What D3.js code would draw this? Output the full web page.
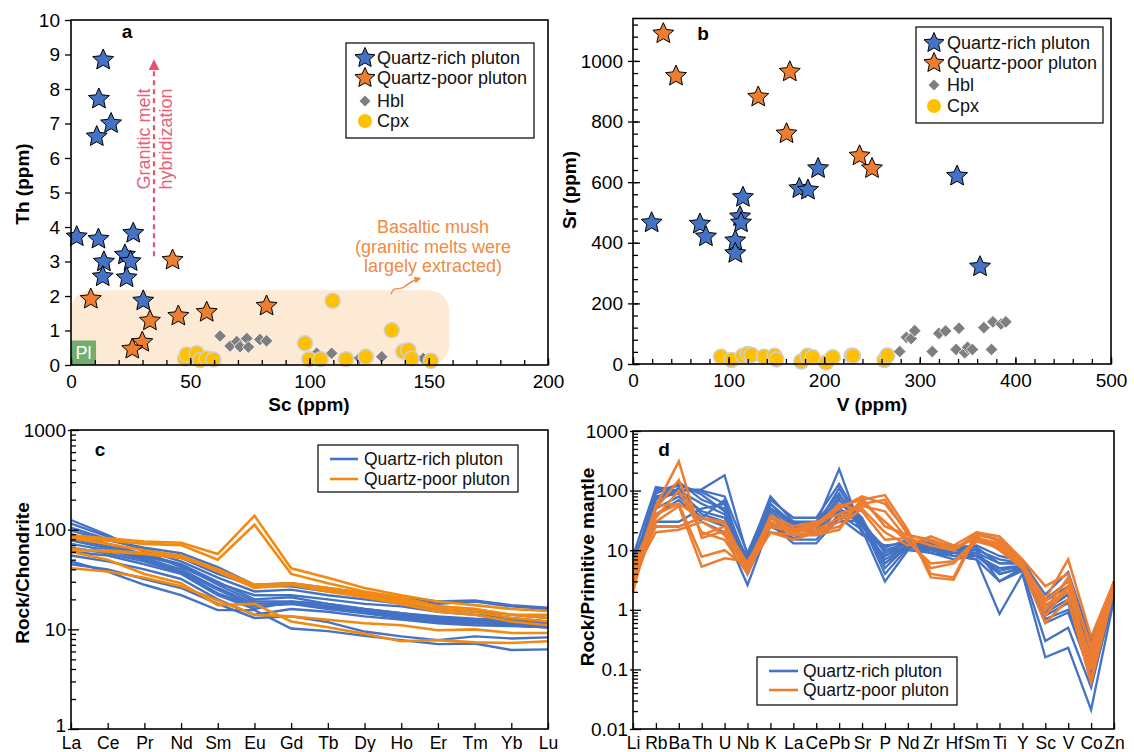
<!DOCTYPE html>
<html>
<head>
<meta charset="utf-8">
<script src="https://cdn.jsdelivr.net/npm/d3@7"></script>
<style>
  body { margin: 0; background: #fff; }
  svg { font-family: "Liberation Sans", Arial, Helvetica, sans-serif; }
</style>
</head>
<body>
<svg id="chart" width="1134" height="752"></svg>
<script>
// ---- Panel a: Sc vs Th (ppm)
const aQuartzRich = [[13.5, 8.84], [11.7, 7.71], [16.8, 7.0], [10.8, 6.62], [2.4, 3.72], [11.5, 3.65], [26.1, 3.82],
  [22.6, 3.19], [25, 3.0], [13.8, 2.99], [13.3, 2.56], [23.3, 2.53], [30.3, 1.86]];
const aQuartzPoor = [[42.6, 3.04], [8.3, 1.91], [45, 1.42], [56.9, 1.53], [82, 1.71], [33.1, 1.28], [29.9, 0.66], [25.7, 0.46]];
const aHbl = [[62.5, 0.84], [66.7, 0.55], [69.5, 0.68], [70.9, 0.53], [73.7, 0.77], [74.4, 0.52], [79.2, 0.74], [82, 0.7],
  [103, 0.34], [109.3, 0.34], [121, 0.2], [130.3, 0.24], [147.7, 0.19]];
const aCpx = [[47.8, 0.19], [48.5, 0.3], [52.7, 0.34], [54.1, 0.14], [56.9, 0.19], [59.7, 0.16], [98.1, 0.63], [99.9, 0.17],
  [104.7, 0.17], [109.7, 1.86], [115.3, 0.17], [123.6, 0.24], [134.5, 1.01], [139.3, 0.39], [141.4, 0.43], [142.8, 0.19], [150.9, 0.12]];

// ---- Panel b: V vs Sr (ppm)
const bQuartzRich = [[19.5, 466], [70, 462], [76.3, 420], [107, 407], [107, 365], [112, 486], [113, 466], [115, 550],
  [174, 579], [183, 574], [193.6, 645], [339, 620], [363, 321]];
const bQuartzPoor = [[31.7, 1090], [45, 950], [131, 881], [164, 964], [160.6, 760], [237, 687], [250, 645]];
const bHbl = [[279, 41], [286, 88], [291, 84], [294.7, 110], [313, 41], [320, 101], [327, 109], [341, 118], [338, 48],
  [347, 37], [350, 55], [355, 48], [375, 48], [367, 120], [376.5, 139], [385, 132], [390, 139]];
const bCpx = [[92, 24], [103, 13], [115, 27], [120, 33], [124, 30], [137, 24], [148, 27], [150, 15], [176, 8], [182.5, 27],
  [188, 22], [202, 5], [209, 22], [228.5, 27], [230, 27], [263, 13], [266, 28]];

// ---- Panel c: chondrite-normalised REE
const cElements = ["La", "Ce", "Pr", "Nd", "Sm", "Eu", "Gd", "Tb", "Dy", "Ho", "Er", "Tm", "Yb", "Lu"];
const cQuartzRich = [
  [125, 88, 60, 42, 29, 22, 22, 20, 18, 17, 15, 14, 13, 12],
  [115, 85, 62, 48, 33, 24, 25, 22, 20, 18, 16, 15, 14, 13],
  [105, 80, 64, 52, 36, 27, 27, 24, 22, 20, 18, 19, 17, 16],
  [98, 78, 66, 58, 42, 28, 29, 26, 23, 20.5, 19, 19.5, 17.5, 16.5],
  [90, 72, 56, 45, 30, 20, 21, 18, 16, 14.5, 13, 12.5, 12, 11.5],
  [82, 68, 54, 44, 28, 19, 19, 17, 15.5, 14, 13, 12, 11.5, 11],
  [78, 65, 52, 40, 26, 18, 18.5, 16.5, 15, 13.5, 12.5, 12, 11, 10.5],
  [72, 62, 50, 38, 25, 17, 18, 16, 14.5, 13, 12, 11.5, 11, 10.5],
  [66, 58, 48, 37, 23, 17, 18, 17, 15.5, 13.5, 12.5, 12, 11.5, 11],
  [60, 55, 45, 36, 22, 16, 19, 18, 16, 14.5, 13.5, 12.8, 12.5, 12],
  [48, 38, 28, 22, 15.6, 15.6, 10.2, 9.6, 8.6, 7.8, 7.1, 7.2, 6.2, 6.3],
  [45, 40, 32, 26, 18, 13, 13.5, 11.8, 9.5, 8.5, 7.8, 8.5, 8.1, 8.3],
  [55, 48, 40, 32, 20, 14, 16, 15, 13.5, 12.5, 11.5, 11, 10.8, 10.5]
];
const cQuartzPoor = [
  [88, 82, 76, 74, 57, 138, 41, 33, 26, 22, 19, 17.5, 16, 15.3],
  [85, 78, 72, 70, 50, 112, 36, 29, 24, 21, 17, 16, 14, 13],
  [62, 62, 58, 54, 38, 26, 28, 25, 22, 19, 16, 15, 13, 12],
  [82, 72, 62, 55, 40, 27, 28, 24, 21, 18, 15, 14, 12, 11],
  [60, 50, 36, 29, 17.5, 18, 12, 10.5, 9, 7.6, 7.8, 7.4, 7.3, 7.6],
  [41, 38, 33, 27, 19.5, 14, 13.5, 12.5, 11.5, 11, 9.8, 10, 9.2, 9.2],
  [64, 60, 57, 52, 40, 28, 29, 26, 23, 20, 17, 16, 14, 14]
];

// ---- Panel d: primitive-mantle-normalised trace elements
const dElements = ["Li", "Rb", "Ba", "Th", "U", "Nb", "K", "La", "Ce", "Pb", "Sr", "P", "Nd", "Zr", "Hf", "Sm", "Ti", "Y", "Sc", "V", "Co", "Zn"];
const dQuartzRich = [
  [8, 115, 100, 105, 180, 8, 80, 30, 28, 230, 20, 8, 14, 12, 10, 10, 3, 5, 0.9, 1.5, 0.1, 2.5],
  [5, 100, 120, 95, 60, 6, 60, 28, 25, 110, 25, 10, 13, 11, 9, 9, 4, 5, 1.0, 1.8, 0.12, 2.2],
  [4, 90, 130, 85, 45, 5, 50, 25, 22, 70, 30, 7, 12, 10, 9, 8, 5, 5.5, 1.2, 2.0, 0.15, 2.0],
  [6, 80, 100, 60, 40, 7, 45, 22, 20, 60, 33, 6, 13, 12, 10, 9, 6, 6, 0.8, 1.3, 0.1, 2.3],
  [3.5, 75, 90, 45, 35, 5, 40, 18, 18, 50, 30, 5, 12, 11, 9, 8, 4, 5, 0.6, 0.9, 0.08, 2.1],
  [7, 60, 110, 40, 30, 4, 35, 20, 25, 45, 28, 4, 11, 10, 8, 7, 3, 4.5, 0.3, 0.5, 0.05, 1.8],
  [5, 50, 80, 35, 25, 6, 30, 15, 15, 40, 22, 3, 10, 9, 8, 7, 0.85, 4, 0.16, 0.23, 0.021, 1.5],
  [4, 40, 70, 30, 20, 2.6, 28, 13, 13, 35, 18, 12, 13, 12, 11, 10, 7, 6, 1.5, 3, 0.25, 2.5],
  [3, 30, 30, 50, 60, 4, 25, 16, 20, 30, 32, 9, 14, 13, 11, 12, 8, 6.5, 1.8, 4.3, 0.3, 2.6],
  [6, 25, 25, 35, 70, 5, 50, 30, 30, 90, 20, 8, 12, 9, 7, 8, 5, 5, 1.0, 1.8, 0.06, 1.7],
  [4.5, 110, 100, 100, 80, 9, 70, 35, 35, 130, 28, 11, 15, 13, 12, 11, 6, 6, 1.4, 2.5, 0.18, 2.4],
  [5, 70, 140, 70, 50, 7, 60, 25, 25, 80, 35, 6, 11, 10, 9, 8, 4.5, 5.5, 0.7, 1.0, 0.09, 2.0]
];
const dQuartzPoor = [
  [2, 55, 310, 16, 21, 5, 30, 20, 25, 50, 80, 60, 20, 4, 3.5, 20, 14, 6, 1.0, 3.5, 0.1, 3],
  [3, 50, 150, 18, 25, 6, 35, 22, 28, 55, 70, 84, 22, 3.5, 3.2, 18, 15, 6.5, 0.8, 2.4, 0.07, 2.8],
  [4, 55, 60, 34, 28, 4.5, 38, 25, 30, 40, 60, 70, 18, 15, 11, 16, 13, 6, 1.5, 7, 0.35, 3],
  [5, 25, 25, 35, 30, 5, 20, 15, 20, 25, 50, 20, 12, 17, 12, 20, 17, 7, 2.5, 4, 0.2, 2.5],
  [2.5, 30, 55, 5.3, 7.3, 6.5, 25, 20, 22, 35, 55, 45, 15, 5, 6, 14, 11, 5, 0.6, 1.5, 0.06, 2.2],
  [3.5, 40, 60, 7.8, 10, 5, 30, 18, 20, 30, 65, 30, 14, 6, 6.5, 15, 12, 5.5, 1.2, 2.0, 0.15, 2.6],
  [6, 35, 100, 20, 15, 4, 28, 22, 25, 60, 45, 15, 16, 12, 10, 17, 10, 5, 1.0, 2.5, 0.12, 2.5],
  [4, 20, 22, 30, 18, 4.7, 20, 18, 18, 22, 75, 25, 18, 14, 10, 19, 15, 6, 1.4, 3.0, 0.25, 3]
];

const legendNames = ["Quartz-rich pluton", "Quartz-poor pluton", "Hbl", "Cpx"];

// colours
const BLUE = "#4472c4";
const ORANGE = "#ed7d31";
const ORANGE_C = "#f28a12";
const GREY = "#7f7f7f";
const GOLD = "#ffc000";

const svg = d3.select("#chart");

// ---------- helpers ----------
function styleAxis(g, fontSize) {
    g.select(".domain").remove();
    g.selectAll(".tick line").attr("stroke", "#000").attr("stroke-width", 1.3);
    g.selectAll(".tick text").attr("fill", "#000").style("font-size", (fontSize || 19) + "px");
    return g;
}

function addAxis(axis, tx, ty, fontSize) {
    return styleAxis(svg.append("g").attr("transform", `translate(${tx},${ty})`).call(axis), fontSize);
}

function frame(x0, y0, x1, y1) {
    svg.append("rect")
        .attr("x", x0).attr("y", y0)
        .attr("width", x1 - x0).attr("height", y1 - y0)
        .attr("fill", "none").attr("stroke", "#000").attr("stroke-width", 1.6);
}

function starPath(R) {
    const pts = [];
    for (let i = 0; i < 10; i++) {
        const a = -Math.PI / 2 + i * Math.PI / 5;
        const r = i % 2 === 0 ? R : R * 0.47;
        pts.push([r * Math.cos(a), r * Math.sin(a)]);
    }
    return "M" + pts.map(p => p[0].toFixed(2) + "," + p[1].toFixed(2)).join("L") + "Z";
}

function diamondPath(h) {
    return `M0,${-h}L${h},0L0,${h}L${-h},0Z`;
}

function drawPoints(data, x, y, kind, fill) {
    const g = svg.append("g");
    if (kind === "circle") {
        g.selectAll("circle").data(data).enter().append("circle")
            .attr("cx", d => x(d[0])).attr("cy", d => y(d[1]))
            .attr("r", 7.5)
            .attr("fill", fill).attr("stroke", "#cfcfcf").attr("stroke-width", 1.5);
    } else {
        g.selectAll("path").data(data).enter().append("path")
            .attr("d", kind === "diamond" ? diamondPath(6.3) : starPath(11))
            .attr("transform", d => `translate(${x(d[0])},${y(d[1])})`)
            .attr("fill", fill)
            .attr("stroke", kind === "diamond" ? "#fff" : "#000")
            .attr("stroke-width", kind === "diamond" ? 0.8 : 1);
    }
}

function scatterLegend(x0, y0, x1, y1, rows, symX, textX) {
    svg.append("rect").attr("x", x0).attr("y", y0).attr("width", x1 - x0).attr("height", y1 - y0)
        .attr("fill", "#fff").attr("stroke", "#000").attr("stroke-width", 1.2);
    const kinds = ["star", "star", "diamond", "circle"];
    const fills = [BLUE, ORANGE, GREY, GOLD];
    legendNames.forEach((name, i) => {
        const cy = rows[i];
        if (kinds[i] === "star") {
            svg.append("path").attr("d", starPath(10.5)).attr("transform", `translate(${symX},${cy})`)
                .attr("fill", fills[i]).attr("stroke", "#000").attr("stroke-width", 1);
        } else if (kinds[i] === "diamond") {
            svg.append("path").attr("d", diamondPath(5.5)).attr("transform", `translate(${symX},${cy})`)
                .attr("fill", fills[i]);
        } else {
            svg.append("circle").attr("cx", symX).attr("cy", cy).attr("r", 7).attr("fill", fills[i]);
        }
        svg.append("text").attr("x", textX).attr("y", cy).attr("dy", "0.36em")
            .style("font-size", "18px").attr("fill", "#111").text(name);
    });
}

function lineLegend(x0, y0, x1, y1, rows, lx0, lx1, textX, colors) {
    svg.append("rect").attr("x", x0).attr("y", y0).attr("width", x1 - x0).attr("height", y1 - y0)
        .attr("fill", "#fff").attr("stroke", "#000").attr("stroke-width", 1.2);
    legendNames.slice(0, 2).forEach((name, i) => {
        svg.append("line").attr("x1", lx0).attr("x2", lx1).attr("y1", rows[i]).attr("y2", rows[i])
            .attr("stroke", colors[i]).attr("stroke-width", 2.6);
        svg.append("text").attr("x", textX).attr("y", rows[i]).attr("dy", "0.36em")
            .style("font-size", "17.5px").attr("fill", "#111").text(name);
    });
}

function yTitle(text, x, y) {
    svg.append("text").attr("transform", `translate(${x},${y}) rotate(-90)`)
        .attr("text-anchor", "middle").style("font-size", "19px").style("font-weight", "bold").text(text);
}

function xTitle(text, x, y) {
    svg.append("text").attr("x", x).attr("y", y).attr("text-anchor", "middle")
        .style("font-size", "19px").style("font-weight", "bold").text(text);
}

function panelLabel(text, x, y) {
    svg.append("text").attr("x", x).attr("y", y).attr("text-anchor", "middle")
        .style("font-size", "19px").style("font-weight", "bold").text(text);
}

function logMinor(lo, hi) {
    const out = [];
    for (let e = lo; e < hi; e++) {
        for (let k = 2; k <= 9; k++) out.push(k * Math.pow(10, e));
    }
    return out;
}

// ---------- panel a ----------
const xA = d3.scaleLinear().domain([0, 200]).range([71, 548]);
const yA = d3.scaleLinear().domain([0, 10]).range([365, 20]);

// basaltic mush field and plagioclase box
svg.append("rect")
    .attr("x", xA(0)).attr("y", yA(2.17))
    .attr("width", xA(158.5) - xA(0)).attr("height", yA(0) - yA(2.17))
    .attr("rx", 20).attr("fill", "#fcead4");
svg.append("rect")
    .attr("x", xA(0)).attr("y", yA(0.71))
    .attr("width", xA(10.5) - xA(0)).attr("height", yA(0) - yA(0.71))
    .attr("fill", "#72ad6e");
svg.append("text").attr("x", xA(5.2)).attr("y", yA(0.35)).attr("dy", "0.36em")
    .attr("text-anchor", "middle").attr("fill", "#fff").style("font-size", "18px").text("Pl");

drawPoints(aHbl, xA, yA, "diamond", GREY);
drawPoints(aCpx, xA, yA, "circle", GOLD);
drawPoints(aQuartzRich, xA, yA, "star", BLUE);
drawPoints(aQuartzPoor, xA, yA, "star", ORANGE);

addAxis(d3.axisBottom(xA).tickValues(d3.range(0, 201, 10)).tickSize(-5).tickFormat(""), 0, 365);
addAxis(d3.axisBottom(xA).tickValues([0, 50, 100, 150, 200]).tickSize(-7).tickPadding(10), 0, 365);
addAxis(d3.axisLeft(yA).tickValues(d3.range(0, 11)).tickSize(6).tickPadding(5), 71, 0);
frame(71, 20, 548, 365);

// hybridization arrow
const defs = svg.append("defs");
defs.append("marker").attr("id", "headPink").attr("viewBox", "0 0 10 10")
    .attr("refX", 5).attr("refY", 5).attr("markerWidth", 5).attr("markerHeight", 5).attr("orient", "auto")
    .append("path").attr("d", "M0,0L10,5L0,10Z").attr("fill", "#e8516d");
defs.append("marker").attr("id", "headOrange").attr("viewBox", "0 0 10 10")
    .attr("refX", 5).attr("refY", 5).attr("markerWidth", 5).attr("markerHeight", 5).attr("orient", "auto")
    .append("path").attr("d", "M0,0L10,5L0,10Z").attr("fill", "#f08a45");

svg.append("line")
    .attr("x1", xA(34.8)).attr("x2", xA(34.8)).attr("y1", yA(3.15)).attr("y2", yA(8.7))
    .attr("stroke", "#e8516d").attr("stroke-width", 2.2).attr("stroke-dasharray", "5,4")
    .attr("marker-end", "url(#headPink)");
svg.append("text").attr("transform", "translate(150,139) rotate(-90)").attr("text-anchor", "middle")
    .attr("fill", "#e8607a").style("font-size", "18px").text("Granitic melt");
svg.append("text").attr("transform", "translate(172,139) rotate(-90)").attr("text-anchor", "middle")
    .attr("fill", "#e8607a").style("font-size", "18px").text("hybridization");

// basaltic mush note
["Basaltic mush", "(granitic melts were", "largely extracted)"].forEach((t, i) => {
    svg.append("text").attr("x", 433).attr("y", 233 + i * 19.5).attr("text-anchor", "middle")
        .attr("fill", "#f08a45").style("font-size", "18px").text(t);
});
svg.append("path").attr("d", "M391,294 C394,285 399,291 404,287 S411,281 418,279")
    .attr("fill", "none").attr("stroke", "#f08a45").attr("stroke-width", 1.4)
    .attr("marker-end", "url(#headOrange)");

scatterLegend(346, 43, 534, 138, [58, 78, 101, 121], 365, 377);
yTitle("Th (ppm)", 29, 184);
xTitle("Sc (ppm)", 309, 411);
panelLabel("a", 127, 38);

// ---------- panel b ----------
const xB = d3.scaleLinear().domain([0, 500]).range([633, 1111]);
const yB = d3.scaleLinear().domain([0, 1140]).range([364, 18.5]);

drawPoints(bHbl, xB, yB, "diamond", GREY);
drawPoints(bCpx, xB, yB, "circle", GOLD);
drawPoints(bQuartzRich, xB, yB, "star", BLUE);
drawPoints(bQuartzPoor, xB, yB, "star", ORANGE);

addAxis(d3.axisBottom(xB).tickValues(d3.range(0, 501, 20)).tickSize(-5).tickFormat(""), 0, 364);
addAxis(d3.axisBottom(xB).tickValues(d3.range(0, 501, 100)).tickSize(-7).tickPadding(10).tickFormat(d3.format("d")), 0, 364);
addAxis(d3.axisLeft(yB).tickValues(d3.range(0, 1140, 40)).tickSize(-5).tickFormat(""), 633, 0);
addAxis(d3.axisLeft(yB).tickValues(d3.range(0, 1001, 200)).tickSize(5).tickPadding(5).tickFormat(d3.format("d")), 633, 0);
addAxis(d3.axisLeft(yB).tickValues(d3.range(0, 1001, 200)).tickSize(-7).tickFormat(""), 633, 0);
frame(633, 18.5, 1111, 364);

scatterLegend(916, 27, 1103, 123, [43, 63, 85, 106], 934, 947);
yTitle("Sr (ppm)", 576, 190);
xTitle("V (ppm)", 872, 411);
panelLabel("b", 703, 40);

// ---------- panel c ----------
const xC = d3.scalePoint().domain(cElements).range([71, 548]);
const yC = d3.scaleLog().domain([1, 1000]).range([729, 430]);
const lineC = d3.line().x((d, i) => xC(cElements[i])).y(d => yC(d));

svg.append("g").selectAll("path").data(cQuartzRich).enter().append("path")
    .attr("d", lineC).attr("fill", "none").attr("stroke", BLUE).attr("stroke-width", 2.4);
svg.append("g").selectAll("path").data(cQuartzPoor).enter().append("path")
    .attr("d", lineC).attr("fill", "none").attr("stroke", ORANGE_C).attr("stroke-width", 2.6);

addAxis(d3.axisBottom(xC).tickSize(-6).tickPadding(8), 0, 729, 17.5);
addAxis(d3.axisLeft(yC).tickValues(logMinor(0, 3)).tickSize(-5).tickFormat(""), 71, 0);
const cMajor = addAxis(d3.axisLeft(yC).tickValues([1, 10, 100, 1000]).tickSize(3).tickPadding(2).tickFormat(d => String(d)), 71, 0);
// lift the bottom "1" a little so it clears the "La" label
cMajor.selectAll(".tick text").filter(d => d === 1).attr("y", -4);
addAxis(d3.axisLeft(yC).tickValues([1, 10, 100, 1000]).tickSize(-8).tickFormat(""), 71, 0);
frame(71, 430, 548, 729);

lineLegend(318, 445, 518, 492, [459, 479], 330, 358, 364, [BLUE, ORANGE_C]);
yTitle("Rock/Chondrite", 29, 573);
panelLabel("c", 100, 456);

// ---------- panel d ----------
const xD = d3.scalePoint().domain(dElements).range([633, 1114]);
const yD = d3.scaleLog().domain([0.01, 1000]).range([729, 431]);
const lineD = d3.line().x((d, i) => xD(dElements[i])).y(d => yD(d));

svg.append("g").selectAll("path").data(dQuartzRich).enter().append("path")
    .attr("d", lineD).attr("fill", "none").attr("stroke", BLUE).attr("stroke-width", 2.3);
svg.append("g").selectAll("path").data(dQuartzPoor).enter().append("path")
    .attr("d", lineD).attr("fill", "none").attr("stroke", ORANGE).attr("stroke-width", 2.5);

addAxis(d3.axisBottom(xD).tickSize(-6).tickPadding(8), 0, 729, 17.5);
addAxis(d3.axisLeft(yD).tickValues(logMinor(-2, 3)).tickSize(-5).tickFormat(""), 633, 0);
addAxis(d3.axisLeft(yD).tickValues([0.01, 0.1, 1, 10, 100, 1000]).tickSize(3).tickPadding(2).tickFormat(d => String(d)), 633, 0);
addAxis(d3.axisLeft(yD).tickValues([0.01, 0.1, 1, 10, 100, 1000]).tickSize(-8).tickFormat(""), 633, 0);
frame(633, 431, 1114, 729);

lineLegend(757, 657, 957, 705, [671, 690], 769, 798, 803, [BLUE, ORANGE]);
yTitle("Rock/Primitive mantle", 594, 567);
panelLabel("d", 664, 456);
</script>
</body>
</html>
